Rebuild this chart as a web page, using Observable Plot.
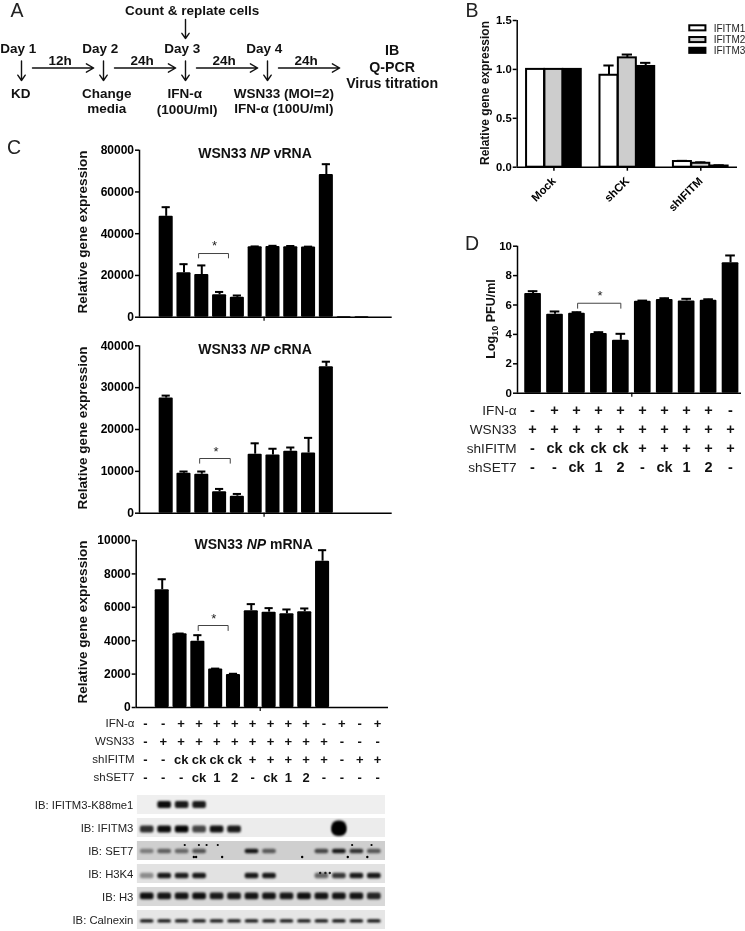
<!DOCTYPE html>
<html><head><meta charset="utf-8">
<script src="https://cdn.jsdelivr.net/npm/d3@7"></script>
<script src="https://cdn.jsdelivr.net/npm/@observablehq/plot@0.6"></script>
<style>
html,body{margin:0;padding:0;background:#fff}
#page{position:relative;width:745px;height:931px;overflow:hidden;font-family:"Liberation Sans",Arial,sans-serif;color:#111;filter:blur(.35px)}
#page svg{position:absolute;overflow:visible;background:transparent}
.t{position:absolute;white-space:nowrap;transform:translate(-50%,-50%);line-height:1}
.v{transform:translate(-50%,-50%) rotate(-90deg)}
sub{font-size:.72em;line-height:0}
</style></head><body><div id="page"></div>
<script>
// ---------- data ----------
const vRNA     = [null,48300,21300,20400,10700,9500,33700,33900,33800,33600,68300,300,300,null];
const vRNAerr  = [null,52700,25400,24800,12100,10400,33900,34200,34100,33800,73300,null,null,null];
const cRNA     = [null,27500,9550,9300,5100,4060,14100,13900,14800,14400,35000,null,null,null];
const cRNAerr  = [null,28100,9960,9960,5800,4600,16700,15400,15700,18000,36200,null,null,null];
const mRNA     = [null,7050,4410,3970,2300,1980,5790,5710,5610,5730,8760,null,null,null];
const mRNAerr  = [null,7680,4430,4330,2330,2020,6190,5950,5870,5930,9420,null,null,null];
const pfu      = [6.78,5.37,5.44,4.06,3.6,6.26,6.37,6.28,6.33,8.87];
const pfuErr   = [6.94,5.56,5.51,4.15,4.04,6.3,6.46,6.42,6.39,9.37];

const bGroups  = ["Mock","shCK","shIFITM"];
const bSeries  = ["IFITM1","IFITM2","IFITM3"];
const bFill    = ["#fff","#cdcdcd","#000"];
const bValues  = [[1,1,1],[0.94,1.118,1.03],[0.058,0.04,0.012]];
const bErr     = [[null,null,null],[1.04,1.152,1.067],[0.065,0.05,0.02]];

const rowNames = ["IFN-α","WSN33","shIFITM","shSET7"];
const cTable = [
  ["-","-","+","+","+","+","+","+","+","+","-","+","-","+"],
  ["-","+","+","+","+","+","+","+","+","+","+","-","-","-"],
  ["-","-","ck","ck","ck","ck","+","+","+","+","+","-","+","+"],
  ["-","-","-","ck","1","2","-","ck","1","2","-","-","-","-"]
];
const dTable = [
  ["-","+","+","+","+","+","+","+","+","-"],
  ["+","+","+","+","+","+","+","+","+","+"],
  ["-","ck","ck","ck","ck","+","+","+","+","+"],
  ["-","-","ck","1","2","-","ck","1","2","-"]
];

const blotNames = ["IB: IFITM3-K88me1","IB: IFITM3","IB: SET7","IB: H3K4","IB: H3","IB: Calnexin"];
const blotBack  = ["#efefef","#ececec","#cfcfcf","#e2e2e2","#d8d8d8","#e6e6e6"];
const blotLevels = [
  [0,.95,.85,.85,0,0,0,0,0,0,0,0,0,0],
  [.7,.95,1,.55,.9,.85,0,0,0,0,0,1,0,0],
  [.2,.35,.3,.42,0,0,.88,.38,0,0,.5,.85,.65,.4],
  [.18,.85,.8,.85,0,0,.85,.85,0,0,.35,.62,.82,.85],
  [.92,.88,.88,.92,.82,.82,.88,.88,.85,.92,.88,.88,.88,.75],
  [.9,.9,.88,.88,.88,.88,.88,.88,.88,.88,.88,.92,.92,.92]
];
const blotThick = [7,7,4.5,5.5,7,3.6];
const blotShift = [0,1.5,.5,2,-.6,1.4];
// dust specks on the membranes: lane position on each strip
const specksSet7Top = [2.15,2.96,3.4,4.04,11.73,12.84];
const specksSet7Bot = [2.67,2.8,4.29,8.87,11.48,12.6];
const specksH3k4    = [9.9,10.2,10.45];

// ---------- helpers ----------
const page = document.getElementById("page");
const FONT = '"Liberation Sans",Arial,sans-serif';
function place(svg,left,top){svg.style.left=left+"px";svg.style.top=top+"px";page.appendChild(svg);}
function label(html,x,y,css,cls){const d=document.createElement("div");d.className="t"+(cls?" "+cls:"");d.innerHTML=html;d.style.left=x+"px";d.style.top=y+"px";d.style.cssText+=css;page.appendChild(d);}

function barPanel(o){
  const {left,right,top,bottom,axL,axR,yTop,yZero,xDomain,yMax,ticks,values,errs,barW,capW,bracket,star,mid}=o;
  const data = values.map((v,i)=>({i,v,e:errs[i]})).filter(d=>d.v!=null);
  const errData = data.filter(d=>d.e!=null);
  const svg = Plot.plot({
    width:right-left,height:bottom-top,
    marginLeft:axL-left,marginRight:right-axR,marginTop:yTop-top,marginBottom:bottom-yZero,
    style:{fontFamily:FONT,background:"transparent",color:"#000"},
    x:{domain:xDomain},y:{domain:[0,yMax]},
    marks:[
      Plot.rectY(data,{x1:d=>d.i-barW/2,x2:d=>d.i+barW/2,y1:0,y2:"v",fill:"#000",rx:1}),
      Plot.ruleX(errData,{x:"i",y1:"v",y2:"e",strokeWidth:2,stroke:"#000"}),
      Plot.ruleY(errData,{y:"e",x1:d=>d.i-capW,x2:d=>d.i+capW,strokeWidth:2,stroke:"#000"}),
      Plot.ruleX([xDomain[0]],{y1:0,y2:yMax,strokeWidth:1.5,stroke:"#000"}),
      Plot.ruleY([0],{strokeWidth:1.5,stroke:"#000"}),
      Plot.axisY({ticks,tickSize:4,tickPadding:1.5,tickFormat:"d",label:null,fontWeight:"bold",fontSize:o.tickFont||12,strokeWidth:1.5}),
      Plot.axisX({ticks:[mid],tickSize:4,tickFormat:()=>"",label:null,strokeWidth:1.2}),
      Plot.line(bracket,{x:"x",y:"y",stroke:"#444",strokeWidth:1}),
      Plot.text([star],{x:"x",y:"y",text:()=>"*",fontSize:13,fill:"#222"})
    ]
  });
  place(svg,left,top);
}
function table(o){
  const {left,right,top,bottom,axL,axR,xDomain,data,labelFont,cellFont,pad}=o;
  const cells = data.flatMap((r,ri)=>r.map((v,i)=>({i,v,row:rowNames[ri]})));
  const svg = Plot.plot({
    width:right-left,height:bottom-top,marginLeft:axL-left,marginRight:right-axR,marginTop:o.mt,marginBottom:o.mb,
    style:{fontFamily:FONT,background:"transparent",color:"#000"},
    x:{domain:xDomain,axis:null},y:{type:"point",domain:rowNames,padding:0},
    marks:[
      Plot.axisY({tickSize:0,tickPadding:pad,label:null,fontSize:labelFont,fill:"#222"}),
      Plot.text(cells,{x:"i",y:"row",text:"v",fontWeight:"bold",fontSize:cellFont,fill:"#111"})
    ]
  });
  place(svg,left,top);
}

// ---------- panel letters ----------
[["A",17,10.5],["B",472,10.5],["C",14,148],["D",472,244]].forEach(([t,x,y])=>label(t,x,y,"font-size:19.5px;color:#222"));

// ---------- panel A ----------
(function(){
  const days=["Day 1","Day 2","Day 3","Day 4"];
  const gaps=["12h","24h","24h","24h"];
  const texts=[
    ["Count & replate cells",2.08,10],
    ["KD",-.01,93.5],["Change",1.04,93.5],["media",1.04,108.5],
    ["IFN-α",1.99,93.5],["(100U/ml)",2.02,109],
    ["WSN33 (MOI=2)",3.2,93],["IFN-α (100U/ml)",3.2,108.5]
  ];
  const results=["IB","Q-PCR","Virus titration"];
  const svg=Plot.plot({
    width:450,height:125,margin:0,marginLeft:21,marginRight:27.2,
    style:{fontFamily:FONT,background:"transparent"},
    x:{domain:[0,4.9],axis:null},y:{domain:[0,125],range:[0,125],axis:null},
    marks:[
      Plot.text(days,{x:(d,i)=>i-.04,y:()=>47.7,text:d=>d,fontWeight:"bold",fontSize:13.5,fill:"#111"}),
      Plot.text(gaps,{x:(d,i)=>i+.47,y:()=>60.5,text:d=>d,fontWeight:"bold",fontSize:13.5,fill:"#111"}),
      Plot.text(texts,{x:d=>d[1],y:d=>d[2],text:d=>d[0],fontWeight:"bold",fontSize:13.5,fill:"#111"}),
      Plot.text(results,{x:()=>4.52,y:(d,i)=>50+i*16.7,text:d=>d,fontWeight:"bold",fontSize:14.2,fill:"#111"}),
      Plot.arrow(days,{x1:(d,i)=>i,x2:(d,i)=>i,y1:()=>60.5,y2:()=>80,bend:0,headLength:9,headAngle:70,strokeWidth:1.4,stroke:"#111"}),
      Plot.arrow(["top"],{x1:()=>2,x2:()=>2,y1:()=>19,y2:()=>38,bend:0,headLength:9,headAngle:70,strokeWidth:1.4,stroke:"#111"}),
      Plot.arrow(gaps,{x1:(d,i)=>i+.134,x2:(d,i)=>i+.88,y1:()=>67.5,y2:()=>67.5,bend:0,headLength:9,headAngle:60,strokeWidth:1.4,stroke:"#111"})
    ]
  });
  place(svg,0,0);
})();

// ---------- panel B ----------
(function(){
  const bars=bGroups.flatMap((g,gi)=>bSeries.map((s,si)=>({gi,si,v:bValues[gi][si],e:bErr[gi][si]})));
  const errs=bars.filter(d=>d.e!=null);
  const w=.245;
  const cx=d=>d.gi+(d.si-1)*.25;
  const legendY=[1.42,1.3,1.19];
  const legend=bSeries.map((s,i)=>({s,i,y:legendY[i]}));
  const svg=Plot.plot({
    width:265,height:205,marginLeft:516.7-480,marginRight:745-737,marginTop:20-10,marginBottom:215-166.7,
    style:{fontFamily:FONT,background:"transparent",color:"#000"},
    x:{domain:[-.5,2.5]},y:{domain:[0,1.5]},
    marks:[
      Plot.ruleX(errs,{x:cx,y1:"v",y2:"e",strokeWidth:2}),
      Plot.ruleY(errs,{y:"e",x1:d=>cx(d)-.07,x2:d=>cx(d)+.07,strokeWidth:2}),
      Plot.rectY(bars,{x1:d=>cx(d)-w/2,x2:d=>cx(d)+w/2,y1:0,y2:"v",fill:d=>bFill[d.si],stroke:"#000",strokeWidth:2}),
      Plot.ruleX([-.5],{y1:0,y2:1.5,strokeWidth:1.5}),
      Plot.ruleY([0],{strokeWidth:1.5}),
      Plot.axisY({ticks:[0,.5,1,1.5],tickFormat:".1f",tickSize:4,tickPadding:1.5,label:null,fontWeight:"bold",fontSize:11.3,strokeWidth:1.5}),
      Plot.axisX({ticks:[0,1,2],tickFormat:i=>bGroups[i],tickRotate:-45,tickSize:4,tickPadding:8,label:null,fontWeight:"bold",fontSize:11.3,strokeWidth:1.5}),
      Plot.rect(legend,{x1:()=>1.85,x2:()=>2.07,y1:d=>d.y-.026,y2:d=>d.y+.026,fill:d=>bFill[d.i],stroke:"#000",strokeWidth:2}),
      Plot.text(legend,{x:()=>2.175,y:"y",text:"s",textAnchor:"start",fontSize:10,fill:"#222"})
    ]
  });
  place(svg,480,10);
  label("Relative gene expression",485,92.7,"font-weight:bold;font-size:12px","v");
})();

// ---------- panel C ----------
const cDomain=[-.5,13.7];
barPanel({left:90,right:400,top:145,bottom:325,axL:139,axR:391.7,yTop:149.7,yZero:316.7,xDomain:cDomain,yMax:80000,
  ticks:[0,20000,40000,60000,80000],values:vRNA,errs:vRNAerr,barW:.79,capW:.23,mid:6.5,
  bracket:[{x:2.82,y:28400},{x:2.82,y:30500},{x:4.5,y:30500},{x:4.5,y:28400}],star:{x:3.72,y:34000}});
barPanel({left:90,right:400,top:340,bottom:522,axL:139,axR:391.7,yTop:345.3,yZero:512.7,xDomain:cDomain,yMax:40000,
  ticks:[0,10000,20000,30000,40000],values:cRNA,errs:cRNAerr,barW:.79,capW:.23,mid:6.5,
  bracket:[{x:2.88,y:11950},{x:2.88,y:13070},{x:4.6,y:13070},{x:4.6,y:11950}],star:{x:3.8,y:14700}});
barPanel({left:90,right:395,top:535,bottom:716,axL:135.7,axR:388,yTop:540,yZero:707,xDomain:[-.46,13.7],yMax:10000,
  ticks:[0,2000,4000,6000,8000,10000],values:mRNA,errs:mRNAerr,barW:.79,capW:.23,mid:6.5,
  bracket:[{x:3.02,y:4610},{x:3.02,y:4910},{x:4.7,y:4910},{x:4.7,y:4610}],star:{x:3.89,y:5310}});

[["vRNA",255,153.3,231.7],["cRNA",255,349.3,428],["mRNA",253.7,544.3,621.7]].forEach(([n,x,y,ly])=>{
  label(`WSN33 <i>NP</i> ${n}`,x,y,"font-weight:bold;font-size:14px");
  label("Relative gene expression",83,ly,"font-weight:bold;font-size:13.6px","v");
});

table({left:60,right:400,top:712,bottom:788,axL:136,axR:386,xDomain:[-.5,13.5],data:cTable,labelFont:11.5,cellFont:13,pad:2,mt:9.7,mb:10.3});

// ---------- panel D ----------
barPanel({left:500,right:745,top:240,bottom:400,axL:517,axR:741,yTop:245.7,yZero:392.7,xDomain:[-.71,9.5],yMax:10,
  ticks:[0,2,4,6,8,10],values:pfu,errs:pfuErr,barW:.76,capW:.22,mid:4.5,tickFont:11.5,
  bracket:[{x:2.03,y:5.78},{x:2.03,y:6.12},{x:4,y:6.12},{x:4,y:5.78}],star:{x:3.05,y:6.6}});
label("Log<sub>10</sub> PFU/ml",490.7,319.3,"font-weight:bold;font-size:12.5px","v");
table({left:440,right:745,top:400,bottom:480,axL:516.6,axR:741,xDomain:[-.7,9.5],data:dTable,labelFont:13.6,cellFont:14.5,pad:.5,mt:9.3,mb:11.7});

// ---------- blots ----------
(function(){
  const laneMin=-.56,laneMax=13.64;
  const backs=blotNames.map((name,i)=>({name,fill:blotBack[i]}));
  const bandMarks=blotNames.map((name,s)=>{
    const lanes=blotLevels[s].map((v,i)=>({name,i,v:Math.pow(v,.55)})).filter(d=>d.v>0);
    const inset=(19.2-blotThick[s])/2;
    return Plot.barX(lanes,{x1:d=>d.i-.39,x2:d=>d.i+.39,y:"name",insetTop:inset+blotShift[s],insetBottom:inset-blotShift[s],fill:"#050505",fillOpacity:"v",rx:2});
  });
  // the over-exposed IFITM3 lane is a much thicker band
  const big=Plot.barX([{name:blotNames[1],i:11}],{x1:d=>d.i-.42,x2:d=>d.i+.42,y:"name",insetTop:2.5,insetBottom:1,fill:"#000",rx:6});
  const set7=blotNames[2],h3k4=blotNames[3];
  const svg=Plot.plot({
    width:400,height:145,marginLeft:136.9,marginRight:400-385,marginTop:4,marginBottom:0,
    style:{fontFamily:FONT,background:"transparent",color:"#000"},
    x:{domain:[laneMin,laneMax],axis:null},
    y:{type:"band",domain:blotNames,paddingInner:.19,paddingOuter:.05},
    marks:[
      Plot.axisY({tickSize:0,tickPadding:4,label:null,fontSize:11.3,fill:"#222"}),
      Plot.barX(backs,{x1:()=>laneMin,x2:()=>laneMax,y:"name",fill:"fill"}),
      ...bandMarks,big,
      Plot.dot(specksSet7Top,{x:d=>d,y:()=>set7,dy:-6,r:1.1,fill:"#000"}),
      Plot.dot(specksSet7Bot,{x:d=>d,y:()=>set7,dy:6,r:1.2,fill:"#000"}),
      Plot.dot(specksH3k4,{x:d=>d,y:()=>h3k4,dy:-1,r:1.2,fill:"#222"})
    ]
  });
  place(svg,0,787);
  svg.querySelectorAll('g[aria-label="bar"]').forEach((g,i)=>{ if(i>0) g.style.filter="blur(.8px)"; });
})();
</script></body></html>
